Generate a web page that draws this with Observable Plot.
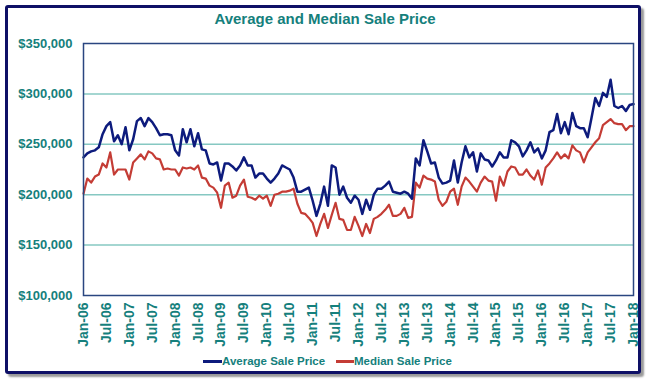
<!DOCTYPE html>
<html>
<head>
<meta charset="utf-8">
<script src="https://cdn.jsdelivr.net/npm/d3@7"></script>
<script src="https://cdn.jsdelivr.net/npm/@observablehq/plot@0.6"></script>
<style>
  html, body { margin: 0; padding: 0; background: #fff; }
  #wrap { position: relative; width: 650px; height: 384px; overflow: hidden; font-family: "Liberation Sans", Arial, sans-serif; }
  #box { position: absolute; left: 5px; top: 5px; width: 630px; height: 363px; border: 3px solid #0e1066; border-radius: 3px; box-shadow: 3px 3px 2px #9a9a9a; background: #fff; }
  #title { position: absolute; left: 0; top: 10px; width: 650px; text-align: center; font-weight: bold; font-size: 15px; color: #15807c; }
  #chart { position: absolute; left: 0; top: 0; }
  #chart svg text { font-weight: bold; fill: #15807c; }
  .leg { position: absolute; top: 355px; font-weight: bold; font-size: 11.5px; color: #15807c; white-space: nowrap; }
  .sw { position: absolute; height: 3px; top: 360px; }
</style>
</head>
<body>
<div id="wrap">
  <div id="box"></div>
  <div id="title">Average and Median Sale Price</div>
  <div id="chart"></div>
  <div class="sw" style="left:203px;width:19px;background:#0d1b7d"></div>
  <div class="leg" style="left:222px">Average Sale Price</div>
  <div class="sw" style="left:336px;width:18px;background:#c43c35"></div>
  <div class="leg" style="left:354px">Median Sale Price</div>
</div>
<script>
// Monthly values, Jan-06 .. Jan-18, in thousands of dollars
const averagePrice = [
  237,241,243,244,247,260,268,272,253,259,250,267,
  244,255,273,276,268,276,272,266,259,260,260,259,
  244,239,265,252,265,248,261,245,244,231,230,232,
  214,231,231,228,224,229,237,229,229,217,221,221,
  216,212,216,221,229,227,225,217,203,203,205,207,
  194,179,191,208,189,229,227,200,208,197,192,199,
  195,181,195,185,200,206,206,209,213,203,202,201,
  203,201,196,236,229,254,243,231,232,217,211,212,
  214,234,212,232,248,237,242,223,241,235,234,228,
  234,242,237,237,254,252,248,238,244,252,242,246,
  236,244,262,264,280,261,272,260,281,268,266,266,
  257,276,296,288,301,297,314,288,286,288,283,289,
  290
];
const medianPrice = [
  201,216,212,218,220,231,227,242,220,225,225,225,
  215,232,236,240,235,243,241,236,235,225,226,225,
  225,219,227,226,227,225,229,217,216,209,207,202,
  187,209,212,197,199,209,215,198,197,195,199,196,
  199,189,200,201,203,203,204,206,191,182,181,177,
  172,159,171,181,167,180,192,176,175,165,165,178,
  169,159,171,162,176,178,181,185,190,179,179,181,
  187,177,178,212,207,219,216,215,213,195,189,193,
  203,206,190,208,217,213,208,203,212,218,214,213,
  194,218,209,223,228,227,220,220,225,219,215,224,
  210,227,231,236,242,236,240,236,249,244,242,232,
  242,247,252,256,269,272,275,271,270,270,264,268,
  268
];
const xTickLabels = ["Jan-06","Jul-06","Jan-07","Jul-07","Jan-08","Jul-08","Jan-09","Jul-09",
  "Jan-10","Jul-10","Jan-11","Jul-11","Jan-12","Jul-12","Jan-13","Jul-13","Jan-14","Jul-14",
  "Jan-15","Jul-15","Jan-16","Jul-16","Jan-17","Jul-17","Jan-18"];
const yTicks = [100, 150, 200, 250, 300, 350];
const gridLines = [150, 200, 250, 300];

const xTicks = xTickLabels.map((_, i) => i * 6);
const fmt = d3.format(",");

const chart = Plot.plot({
  width: 650,
  height: 352,
  marginLeft: 83,
  marginRight: 17,
  marginTop: 43,
  marginBottom: 57,
  style: { background: "transparent", fontFamily: "Liberation Sans, Arial, sans-serif", overflow: "visible" },
  x: { domain: [0, averagePrice.length - 1] },
  y: { domain: [100, 350] },
  marks: [
    Plot.ruleY(gridLines, { stroke: "#86c8c2", strokeWidth: 1.5 }),
    Plot.lineY(medianPrice, { stroke: "#c43c35", strokeWidth: 2.2 }),
    Plot.lineY(averagePrice, { stroke: "#0d1b7d", strokeWidth: 2.5 }),
    Plot.frame({ stroke: "#2a4680", strokeWidth: 1.5 }),
    Plot.axisY({ ticks: yTicks, tickFormat: d => "$" + fmt(d * 1000), tickSize: 0, tickPadding: 11, fontSize: 13, label: null }),
    Plot.axisX({ ticks: xTicks, tickFormat: i => xTickLabels[i / 6], tickRotate: -90, tickSize: 0, tickPadding: 7, fontSize: 14, label: null })
  ]
});
document.getElementById("chart").appendChild(chart);
</script>
</body>
</html>
